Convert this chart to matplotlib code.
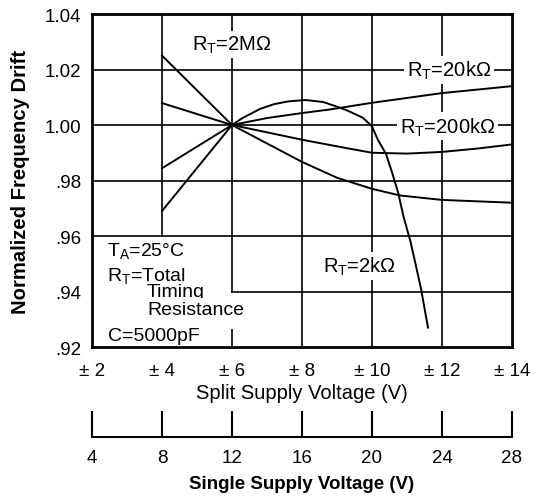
import matplotlib
matplotlib.use("Agg")
import matplotlib.pyplot as plt

plt.rcParams['font.family'] = ['Liberation Sans', 'DejaVu Sans']
plt.rcParams['mathtext.default'] = 'regular'

# ---- data ----
split_ticks = [2, 4, 6, 8, 10, 12, 14]
split_labels = ['± 2', '± 4', '± 6', '± 8', '± 10', '± 12', '± 14']
single_ticks = [4, 8, 12, 16, 20, 24, 28]
y_ticks = [0.92, 0.94, 0.96, 0.98, 1.00, 1.02, 1.04]
y_labels = ['.92', '.94', '.96', '.98', '1.00', '1.02', '1.04']

rt_2k_v = [4, 5, 6, 6.3, 6.8, 7.2, 7.6, 8.1, 8.6, 9.0, 9.3, 9.74, 10.0, 10.17,
           10.4, 10.57, 10.75, 10.9, 11.1, 11.26, 11.4, 11.6]
rt_2k_f = [0.969, 0.9845, 1.000, 1.0025, 1.0058, 1.0075, 1.0085, 1.009, 1.0083,
           1.0066, 1.0052, 1.0026, 0.9995, 0.9946, 0.9896, 0.983, 0.9755, 0.967,
           0.958, 0.949, 0.941, 0.927]
rt_20k_v = [4, 6, 7, 8, 8.8, 10, 12, 14]
rt_20k_f = [0.9844, 1.000, 1.0025, 1.0043, 1.0056, 1.008, 1.0115, 1.014]
rt_200k_v = [4, 6, 8, 9.3, 10, 11, 12, 13, 14]
rt_200k_f = [1.0079, 1.000, 0.9947, 0.9916, 0.990, 0.9897, 0.9903, 0.9915, 0.993]
rt_2M_v = [4, 6, 8, 9, 10, 10.8, 12, 14]
rt_2M_f = [1.025, 1.000, 0.9867, 0.981, 0.977, 0.9746, 0.973, 0.972]

W, H = 537, 502
fig = plt.figure(figsize=(W / 100, H / 100), dpi=100)
L, R, T, B = 92, 512, 15, 348
ax = fig.add_axes([L / W, 1 - B / H, (R - L) / W, (B - T) / H])
ax.set_xlim(2, 14)
ax.set_ylim(0.92, 1.04)

# grid (partial, as in the reference)
gkw = dict(color='black', lw=1.2, zorder=1)
for yv in [0.96, 0.98, 1.00, 1.02]:
    ax.plot([2, 14], [yv, yv], **gkw)
ax.plot([6, 14], [0.94, 0.94], **gkw)
ax.plot([4, 4], [0.96, 1.04], **gkw)
ax.plot([6, 6], [0.94, 1.04], **gkw)
ax.plot([6, 6], [0.92, 0.926], **gkw)
for xv in [8, 10, 12]:
    ax.plot([xv, xv], [0.92, 1.04], **gkw)

lkw = dict(color='black', lw=1.4, zorder=3)
ax.plot(rt_2k_v, rt_2k_f, **lkw)
ax.plot(rt_20k_v, rt_20k_f, **lkw)
ax.plot(rt_200k_v, rt_200k_f, **lkw)
ax.plot(rt_2M_v, rt_2M_f, **lkw)

bb = dict(facecolor='white', edgecolor='none', pad=2)
fs = 14.5
ax.text(6.0, 1.0289, 'R$_T$=2MΩ', ha='center', va='center', fontsize=fs, bbox=bb, zorder=4)
ax.text(12.2, 1.0198, 'R$_T$=20kΩ', ha='center', va='center', fontsize=fs, bbox=bb, zorder=4)
ax.text(12.15, 0.9995, 'R$_T$=200kΩ', ha='center', va='center', fontsize=fs, bbox=bb, zorder=4)
ax.text(9.63, 0.9493, 'R$_T$=2kΩ', ha='center', va='center', fontsize=fs, bbox=bb, zorder=4)

lfs = 14
ax.text(2.43, 0.955, 'T$_A$=25°C', ha='left', va='center', fontsize=lfs, zorder=4)
ax.text(2.43, 0.946, 'R$_T$=Total', ha='left', va='center', fontsize=lfs, zorder=4)
ax.text(3.57, 0.940, 'Timing', ha='left', va='center', fontsize=lfs, zorder=4)
ax.text(3.57, 0.9335, 'Resistance', ha='left', va='center', fontsize=lfs, bbox=bb, zorder=4)
ax.text(2.46, 0.9243, 'C=5000pF', ha='left', va='center', fontsize=lfs, zorder=4)

ax.set_xticks(split_ticks)
ax.set_xticklabels(split_labels, fontsize=13.5)
ax.set_yticks(y_ticks)
ax.set_yticklabels(y_labels, fontsize=13.5)
ax.tick_params(axis='both', length=0)
ax.tick_params(axis='x', pad=11)
ax.tick_params(axis='y', pad=8)
for s in ax.spines.values():
    s.set_linewidth(2.0)
ax.set_xlabel('Split Supply Voltage (V)', fontsize=fs, labelpad=3)
ax.set_ylabel('Normalized Frequency Drift', fontsize=14.6, fontweight='bold', labelpad=10)

# secondary single-supply axis
base = 438
ax2 = fig.add_axes([L / W, 1 - base / H, (R - L) / W, 0.001])
ax2.set_xlim(4, 28)
ax2.set_xticks(single_ticks)
ax2.set_xticklabels([str(t) for t in single_ticks], fontsize=13.5)
ax2.set_yticks([])
for k in ['top', 'left', 'right']:
    ax2.spines[k].set_visible(False)
ax2.spines['bottom'].set_linewidth(1.5)
ax2.patch.set_visible(False)
ax2.tick_params(axis='x', direction='in', length=19, width=1.5, pad=9)
ax2.set_xlabel('Single Supply Voltage (V)', fontsize=13.5, fontweight='bold', labelpad=6)

fig.savefig('out.png', dpi=100)
